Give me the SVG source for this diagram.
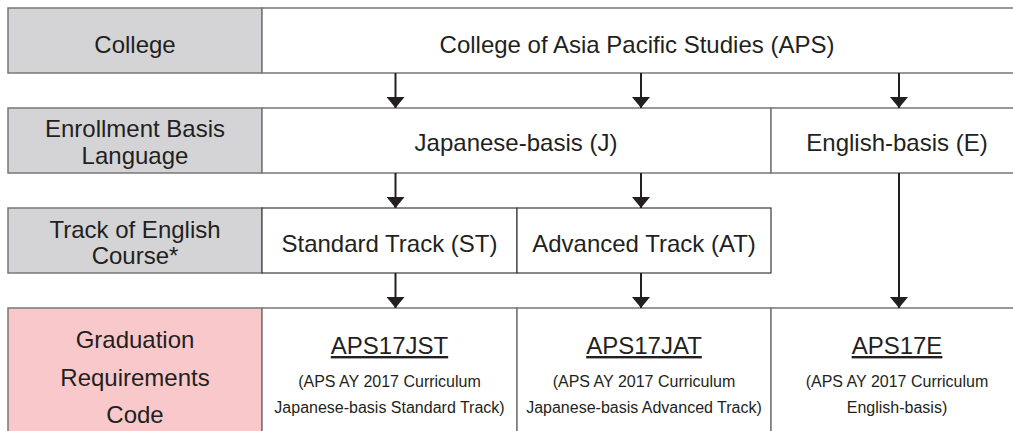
<svg xmlns="http://www.w3.org/2000/svg" width="1013" height="431" viewBox="0 0 1013 431">
<style>
text{font-family:"Liberation Sans",Arial,sans-serif;fill:#231f20;text-anchor:middle}
.t{font-size:24px}
.s{font-size:16px}
.u{text-decoration:underline}
.lab{fill:#d4d4d6;stroke:#777;stroke-width:1.5}
.pink{fill:#f8c8cb;stroke:#777;stroke-width:1.5}
.box{fill:#fff;stroke:#777;stroke-width:1.5}
.dbox{fill:#fff;stroke:#3a3a3a;stroke-width:1.2}
.c{stroke:#231f20;stroke-width:2;fill:none}
</style>
<defs>
<marker id="ah" viewBox="0 0 11 18" refX="11" refY="9" markerWidth="11" markerHeight="18" markerUnits="userSpaceOnUse" orient="auto">
<path d="M0,0 L11,9 L0,18 Z" fill="#231f20"/>
</marker>
</defs>
<rect width="1013" height="431" fill="#fff"/>

<g id="row-college">
<rect class="lab" x="8" y="8" width="254" height="65"/>
<text class="t" x="135" y="53">College</text>
</g>
<g id="node-aps">
<rect class="box" x="262" y="8" width="770" height="65"/>
<text class="t" x="637" y="53">College of Asia Pacific Studies (APS)</text>
</g>

<g id="row-enrollment">
<rect class="lab" x="8" y="108" width="254" height="65"/>
<text class="t" x="135" y="137">Enrollment Basis</text>
<text class="t" x="135" y="164">Language</text>
</g>
<g id="node-j">
<rect class="box" x="262" y="108" width="509" height="65"/>
<text class="t" x="516" y="151">Japanese-basis (J)</text>
</g>
<g id="node-e">
<rect class="box" x="771" y="108" width="261" height="65"/>
<text class="t" x="897" y="151">English-basis (E)</text>
</g>

<g id="row-track">
<rect class="lab" x="8" y="208" width="254" height="65"/>
<text class="t" x="135" y="238">Track of English</text>
<text class="t" x="135" y="264">Course*</text>
</g>
<g id="node-st">
<rect class="dbox" x="262" y="208" width="255" height="65"/>
<text class="t" x="389.5" y="252">Standard Track (ST)</text>
</g>
<g id="node-at">
<rect class="dbox" x="517" y="208" width="254" height="65"/>
<text class="t" x="644" y="252">Advanced Track (AT)</text>
</g>

<g id="row-code">
<rect class="pink" x="8" y="308" width="254" height="140"/>
<text class="t" x="135" y="348">Graduation</text>
<text class="t" x="135" y="386">Requirements</text>
<text class="t" x="135" y="423">Code</text>
</g>
<g id="node-jst">
<rect class="box" x="262" y="308" width="255" height="140"/>
<text class="t u" x="389.5" y="354">APS17JST</text>
<text class="s" x="389.5" y="387">(APS AY 2017 Curriculum</text>
<text class="s" x="389.5" y="413">Japanese-basis Standard Track)</text>
</g>
<g id="node-jat">
<rect class="box" x="517" y="308" width="254" height="140"/>
<text class="t u" x="644" y="354">APS17JAT</text>
<text class="s" x="644" y="387">(APS AY 2017 Curriculum</text>
<text class="s" x="644" y="413">Japanese-basis Advanced Track)</text>
</g>
<g id="node-e17">
<rect class="box" x="771" y="308" width="261" height="140"/>
<text class="t u" x="897" y="354">APS17E</text>
<text class="s" x="897" y="387">(APS AY 2017 Curriculum</text>
<text class="s" x="897" y="413">English-basis)</text>
</g>

<g id="connectors">
<path class="c" d="M395.5,73 V108" marker-end="url(#ah)"/>
<path class="c" d="M641,73 V108" marker-end="url(#ah)"/>
<path class="c" d="M899,73 V108" marker-end="url(#ah)"/>
<path class="c" d="M395.5,173 V208" marker-end="url(#ah)"/>
<path class="c" d="M641,173 V208" marker-end="url(#ah)"/>
<path class="c" d="M899,173 V308" marker-end="url(#ah)"/>
<path class="c" d="M395.5,273 V308" marker-end="url(#ah)"/>
<path class="c" d="M641,273 V308" marker-end="url(#ah)"/>
</g>
</svg>
